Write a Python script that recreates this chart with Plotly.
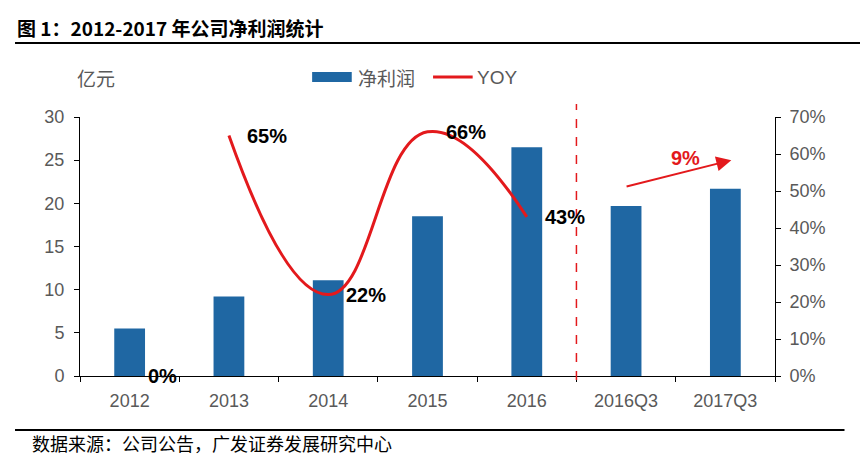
import plotly.graph_objects as go

# dados
categorias = ['2012', '2013', '2014', '2015', '2016', '2016Q3', '2017Q3']
lucro_liquido = [5.5, 9.2, 11.1, 18.5, 26.5, 19.7, 21.7]  # 亿元
anos_yoy = ['2012', '2013', '2014', '2015', '2016']
yoy = [0.0, 0.65, 0.22, 0.66, 0.43]
crescimento_q3 = '9%'

AZUL = '#1F67A3'
VERMELHO = '#E3191C'
CINZA = '#595959'
FONTE = 'Liberation Sans, Arial, Noto Sans CJK SC, sans-serif'
FONTE_CJK = 'Noto Sans CJK SC, Liberation Sans, sans-serif'

# eixo x numérico (índice da categoria)
idx = list(range(len(categorias)))
idx_yoy = [categorias.index(a) for a in anos_yoy]
fronteiras = [i - 0.5 for i in range(len(categorias) + 1)]

fig = go.Figure()

fig.add_trace(go.Bar(x=idx, y=lucro_liquido, name='净利润',
                     marker=dict(color=AZUL, line=dict(width=0)),
                     showlegend=False))

# YOY: a linha começa em 2013 (2012 sem base)
fig.add_trace(go.Scatter(x=idx_yoy[1:], y=yoy[1:], yaxis='y2', name='YOY',
                         mode='lines', line=dict(color=VERMELHO, width=3, shape='spline', smoothing=1.3),
                         showlegend=False))

anots = []
for i, v in zip(idx_yoy, yoy):
    anots.append(dict(x=i, y=v, xref='x', yref='y2', text=f'<b>{v:.0%}</b>', showarrow=False,
                      xanchor='left', yanchor='middle', xshift=16,
                      font=dict(family=FONTE, size=20, color='black')))

# seta de crescimento 2016Q3 -> 2017Q3
anots.append(dict(x=6.06, y=25.0, ax=4.99, ay=21.9, xref='x', yref='y', axref='x', ayref='y',
                  text='', showarrow=True, arrowhead=2, arrowsize=1.5, arrowwidth=2, arrowcolor=VERMELHO))
anots.append(dict(x=5.6, y=25.3, xref='x', yref='y', text=f'<b>{crescimento_q3}</b>', showarrow=False,
                  yanchor='middle', font=dict(family=FONTE, size=20, color=VERMELHO)))

# textos fora da área
anots += [
    dict(x=-0.0935, y=1.347, xref='paper', yref='paper', xanchor='left', yanchor='middle', showarrow=False,
         text='<b>图 1：2012-2017 年公司净利润统计</b>', font=dict(family=FONTE_CJK, size=19, color='black')),
    dict(x=-0.007, y=1.154, xref='paper', yref='paper', yanchor='middle', showarrow=False, text='亿元',
         font=dict(family=FONTE_CJK, size=19, color=CINZA)),
    dict(x=0.397, y=1.154, xref='paper', yref='paper', xanchor='left', yanchor='middle', showarrow=False,
         text='净利润', font=dict(family=FONTE_CJK, size=19, color=CINZA)),
    dict(x=0.569, y=1.154, xref='paper', yref='paper', xanchor='left', yanchor='middle', showarrow=False,
         text='YOY', font=dict(family=FONTE, size=19, color=CINZA)),
    dict(x=-0.072, y=-0.259, xref='paper', yref='paper', xanchor='left', yanchor='middle', showarrow=False,
         text='数据来源：公司公告，广发证券发展研究中心', font=dict(family=FONTE_CJK, size=18, color='black')),
]

shapes = [
    # linha divisória tracejada
    dict(type='line', xref='x', yref='paper', x0=4.5, x1=4.5, y0=-0.015, y1=1.05,
         line=dict(color=VERMELHO, width=1.5, dash='dash')),
    # legenda manual
    dict(type='rect', xref='paper', yref='paper', x0=0.334, x1=0.391, y0=1.135, y1=1.174,
         fillcolor=AZUL, line=dict(width=0)),
    dict(type='line', xref='paper', yref='paper', x0=0.508, x1=0.565, y0=1.154, y1=1.154,
         line=dict(color=VERMELHO, width=3)),
    # réguas de título e fonte
    dict(type='line', xref='paper', yref='paper', x0=-0.0935, x1=1.125, y0=1.286, y1=1.286,
         line=dict(color='black', width=2)),
    dict(type='line', xref='paper', yref='paper', x0=-0.0935, x1=1.10, y0=-0.2085, y1=-0.2085,
         line=dict(color='black', width=2)),
]

fig.update_layout(
    width=860, height=460,
    margin=dict(l=80, r=85, t=117, b=84),
    plot_bgcolor='white', paper_bgcolor='white',
    bargap=0.69,
    font=dict(family=FONTE, size=18, color=CINZA),
    xaxis=dict(range=[-0.5, len(categorias) - 0.5], tickmode='array', tickvals=idx, ticktext=categorias,
               showline=True, linecolor='black', linewidth=1, ticks='', showgrid=False, zeroline=False,
               ticklabelstandoff=8, tickfont=dict(size=18, color=CINZA),
               minor=dict(tickmode='array', tickvals=fronteiras, ticks='outside', ticklen=5,
                          tickcolor='black', showgrid=False)),
    yaxis=dict(range=[0, 30], dtick=5, showline=True, linecolor='black', linewidth=1,
               ticks='outside', ticklen=5, tickcolor='black', showgrid=False, zeroline=False,
               ticklabelstandoff=6, tickfont=dict(size=18, color=CINZA)),
    yaxis2=dict(range=[0, 0.7], dtick=0.1, tickformat='.0%', overlaying='y', side='right',
                showline=True, linecolor='black', linewidth=1, ticks='outside', ticklen=5,
                tickcolor='black', showgrid=False, zeroline=False, ticklabelstandoff=5,
                tickfont=dict(size=18, color=CINZA)),
    annotations=anots,
    shapes=shapes,
    showlegend=False,
)

fig.write_html('out.html', config={'displayModeBar': False},
               post_script="document.body.style.margin='0';")
